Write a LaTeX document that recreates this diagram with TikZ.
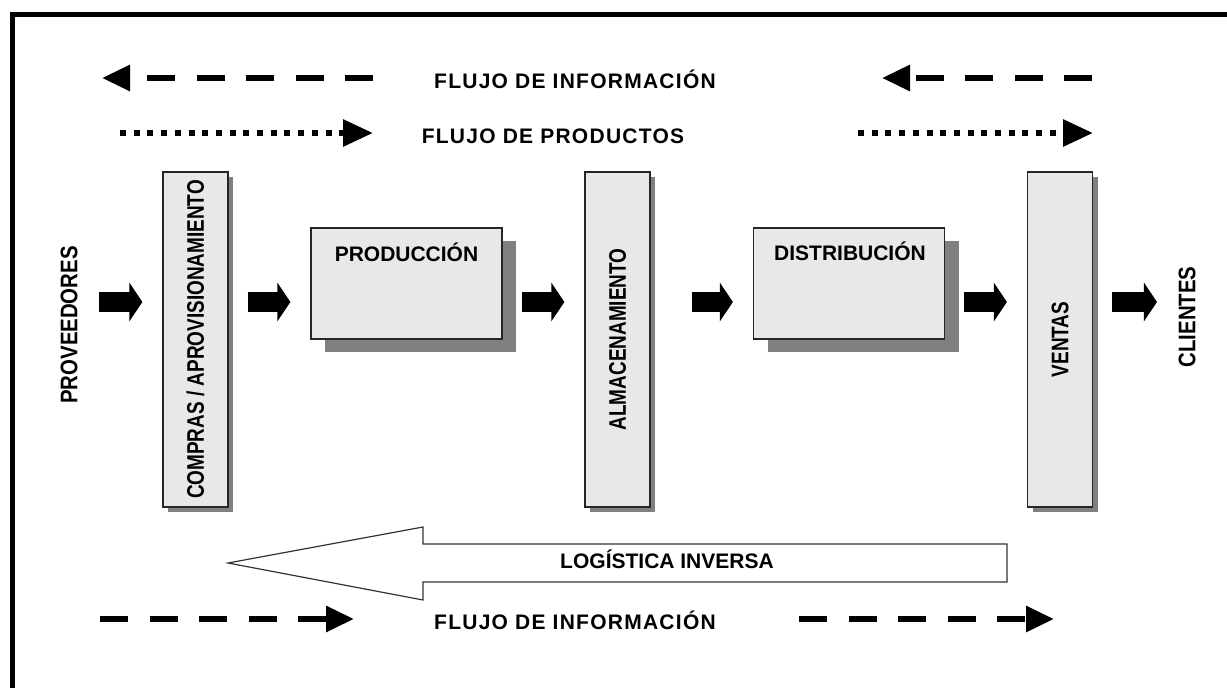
\documentclass[tikz,border=0pt]{standalone}
\usepackage{fontspec}
\setmainfont{Liberation Sans}
\newfontfamily\condfont{Liberation Sans}[FakeStretch=0.79]
\newfontfamily\sidefont{Liberation Sans}[FakeStretch=0.85]
\newfontfamily\flowfont{Liberation Sans}[LetterSpace=6]
\usetikzlibrary{arrows.meta,positioning,shadows}

\tikzset{
	stage/.style = {draw = black!85, line width = 1.2pt, fill = black!9, inner sep = 0pt},
	tallstage/.style = {stage, minimum width = 65pt, minimum height = 335pt,
		drop shadow = {shadow xshift = 5pt, shadow yshift = -5pt, fill = black!50, opacity = 1}},
	widestage/.style = {stage, minimum width = 191pt, minimum height = 111pt,
		drop shadow = {shadow xshift = 14pt, shadow yshift = -13pt, fill = black!50, opacity = 1}},
	boxtext/.style = {font = \fontsize{21}{24}\selectfont\bfseries},
	sidetext/.style = {font = \sidefont\fontsize{24}{26}\selectfont\bfseries},
	flowtext/.style = {font = \flowfont\fontsize{21}{24}\selectfont\bfseries, anchor = base},
	blockarr/.style = {line width = 20pt, -{Triangle[length = 13pt, width = 38pt]},
		shorten < = 19pt, shorten > = 20pt},
	infoarr/.style = {line width = 6pt, dash pattern = on 28pt off 21.5pt,
		-{Triangle[length = 28pt, width = 25pt]}},
	prodarr/.style = {line width = 6pt, dash pattern = on 6pt off 7.7pt,
		-{Triangle[length = 30pt, width = 26pt]}}
}
\newcommand\stagename[1]{\rotatebox{90}{\condfont\fontsize{24}{26}\selectfont\bfseries #1}}

\begin{document}
\begin{tikzpicture} [x = 1pt, y = -1pt]
	\useasboundingbox (0,0) rectangle (1227,688);
	% frame
	\draw [line width = 5pt] (12,700) -- (12,14.5) -- (1240,14.5);

	% flows on top
	\node [flowtext] (infotop) at (575,88) {FLUJO DE INFORMACIÓN};
	\node [flowtext] (prodtop) at (553,143) {FLUJO DE PRODUCTOS};
	\coordinate (il1) at (373,78);  \coordinate (il2) at (102,78);
	\coordinate (ir1) at (1092,78); \coordinate (ir2) at (882,78);
	\coordinate (pl1) at (120,133); \coordinate (pl2) at (373,133);
	\coordinate (pr1) at (858,133); \coordinate (pr2) at (1093,133);
	\draw [infoarr] (il1) -- (il2);
	\draw [infoarr] (ir1) -- (ir2);
	\draw [prodarr] (pl1) -- (pl2);
	\draw [prodarr] (pr1) -- (pr2);

	% the chain
	\node [sidetext] (prov) at (69,325) {\rotatebox{90}{PROVEEDORES}};
	\node [tallstage] (compras) at (195.5,339.5) {\stagename{COMPRAS / APROVISIONAMIENTO}};
	\node [widestage] (prod) at (406.5,283.5) {};
	\node [boxtext, anchor = base] (prodlbl) at (406.5,261) {PRODUCCIÓN};
	\node [tallstage] (alm) at (617.5,339.5) {\stagename{ALMACENAMIENTO}};
	\node [widestage] (dist) at (849,283.5) {};
	\node [boxtext, anchor = base] (distlbl) at (850,260) {DISTRIBUCIÓN};
	\node [tallstage] (ventas) at (1060,339.5) {\stagename{VENTAS}};
	\node [sidetext] (clientes) at (1187,317) {\rotatebox{90}{CLIENTES}};

	\coordinate (row) at (0,302);
	\draw [blockarr, shorten < = 18pt] (prov.east |- row) -- (compras.west |- row);
	\draw [blockarr] (compras.east |- row) -- (prod.west |- row);
	\draw [blockarr] (prod.east |- row) -- (alm.west |- row);
	\draw [blockarr, shorten < = 41pt] (alm.east |- row) -- (dist.west |- row);
	\draw [blockarr] (dist.east |- row) -- (ventas.west |- row);
	\draw [blockarr, shorten > = 18pt] (ventas.east |- row) -- (clientes.west |- row);

	% reverse logistics
	\draw [draw = black!80, line width = 1.2pt, fill = white]
		(1007,544) -- (423,544) -- (423,527) -- (228,563) -- (423,600) -- (423,582) -- (1007,582) -- cycle;
	\node [boxtext, anchor = base] (inversa) at (667,568) {LOGÍSTICA INVERSA};

	% flows at the bottom
	\node [flowtext] (infobot) at (575,629) {FLUJO DE INFORMACIÓN};
	\coordinate (bl1) at (100,619); \coordinate (bl2) at (354,619);
	\coordinate (br1) at (799,619); \coordinate (br2) at (1054,619);
	\draw [infoarr] (bl1) -- (bl2);
	\draw [infoarr] (br1) -- (br2);
\end{tikzpicture}
\end{document}
